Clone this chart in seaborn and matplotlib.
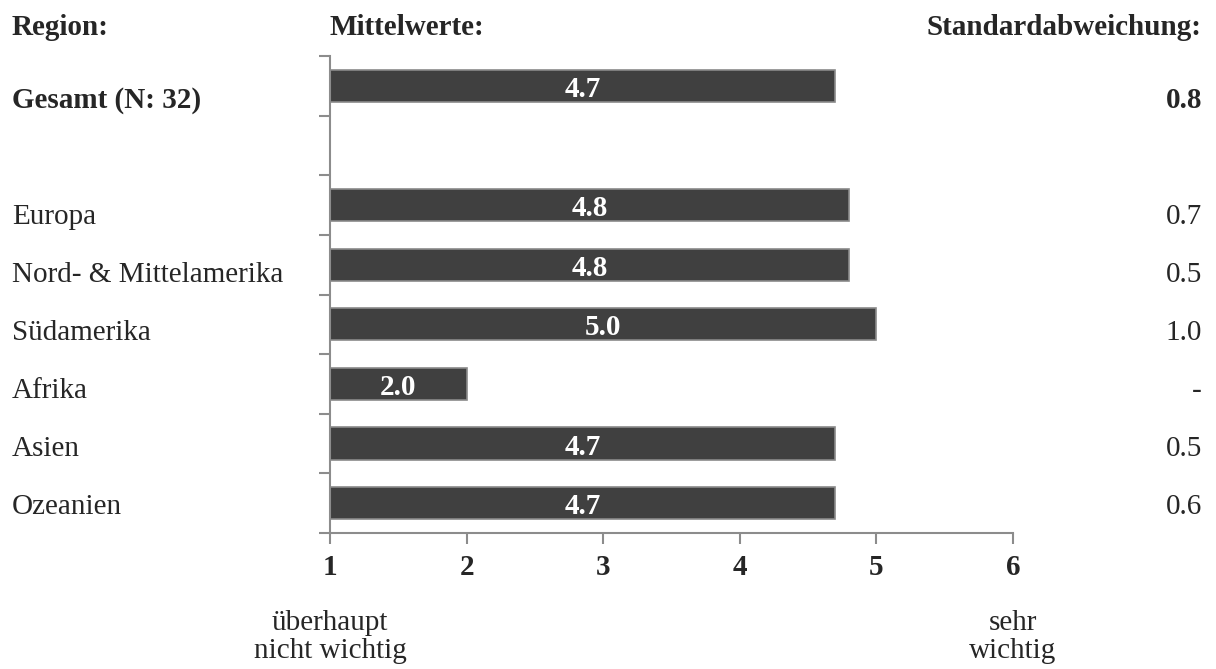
import matplotlib
matplotlib.use("Agg")
import matplotlib.pyplot as plt
import matplotlib.transforms as mtransforms
import seaborn as sns
import pandas as pd

# Regions, mean ratings (scale 1-6) and standard deviations
regions = ["Gesamt (N: 32)", "", "Europa", "Nord- & Mittelamerika",
           "Südamerika", "Afrika", "Asien", "Ozeanien"]
means = [4.7, None, 4.8, 4.8, 5.0, 2.0, 4.7, 4.7]
std_devs = ["0.8", "", "0.7", "0.5", "1.0", "-", "0.5", "0.6"]
bold_rows = [True, False, False, False, False, False, False, False]
x_ticks = [1, 2, 3, 4, 5, 6]
scale_low = ["überhaupt", "nicht wichtig"]
scale_high = ["sehr", "wichtig"]
headers = ["Region:", "Mittelwerte:", "Standardabweichung:"]

sns.set_style("white")
plt.rcParams["font.family"] = ["Liberation Serif", "DejaVu Serif"]

FS = 21
DPI = 100
W, H = 1216, 669
fig = plt.figure(figsize=(W / DPI, H / DPI), dpi=DPI)
ax = fig.add_axes([330 / W, 1 - 533 / H, (1013 - 330) / W, (533 - 56) / H])

df = pd.DataFrame({"region": regions, "mean": means})
plot_df = df.dropna(subset=["mean"])
sns.barplot(data=plot_df, x="mean", y="region", order=regions, ax=ax,
            color="#404040", saturation=1, width=0.54,
            edgecolor="#8a8a8a", linewidth=1.2, errorbar=None)

ax.set_xlim(1, 6)
ax.set_ylim(len(regions) - 0.5, -0.5)
ax.set_xlabel("")
ax.set_ylabel("")

# Axis styling: gray spines, outward ticks; category ticks sit on boundaries
axis_gray = "#8c8c8c"
for side in ["top", "right"]:
    ax.spines[side].set_visible(False)
for side in ["left", "bottom"]:
    ax.spines[side].set_color(axis_gray)
    ax.spines[side].set_linewidth(1.5)
ax.set_yticks([i - 0.5 for i in range(len(regions) + 1)])
ax.set_yticklabels([])
ax.tick_params(axis="y", direction="out", length=8, width=1.5, color=axis_gray, left=True)
ax.set_xticks(x_ticks)
ax.set_xticklabels([str(t) for t in x_ticks], fontsize=FS, fontweight="bold")
ax.tick_params(axis="x", direction="out", length=8, width=1.5, color=axis_gray,
               bottom=True, pad=7)

# Value labels inside the bars (baseline a little below the bar centre)
label_tr = ax.transData + mtransforms.ScaledTranslation(0, -11 / DPI, fig.dpi_scale_trans)
for i, v in enumerate(means):
    if v is None:
        continue
    ax.text((1 + v) / 2, i, f"{v:.1f}", transform=label_tr,
            ha="center", va="baseline", color="white", fontsize=FS,
            fontweight="bold")

# Side table: region names on the left, standard deviations on the right
row_top, row_step = 108, 58
for i, (name, sd, b) in enumerate(zip(regions, std_devs, bold_rows)):
    w = "bold" if b else "normal"
    y = 1 - (row_top + row_step * i) / H
    fig.text(12 / W, y, name, ha="left", va="baseline", fontsize=FS, fontweight=w)
    fig.text(1202 / W, y, sd, ha="right", va="baseline", fontsize=FS, fontweight=w)

# Column headers
fig.text(12 / W, 1 - 35 / H, headers[0], ha="left", va="baseline",
         fontsize=FS, fontweight="bold")
fig.text(330 / W, 1 - 35 / H, headers[1], ha="left", va="baseline",
         fontsize=FS, fontweight="bold")
fig.text(1202 / W, 1 - 35 / H, headers[2], ha="right", va="baseline",
         fontsize=FS, fontweight="bold")

# Scale anchor descriptions under the x axis
col_tr = mtransforms.blended_transform_factory(ax.transData, fig.transFigure)
for xv, lines in [(x_ticks[0], scale_low), (x_ticks[-1], scale_high)]:
    for k, line in enumerate(lines):
        ax.text(xv, 1 - (630 + 28 * k) / H, line, transform=col_tr,
                ha="center", va="baseline", fontsize=FS)

fig.savefig("out.png", dpi=DPI, facecolor="white")
